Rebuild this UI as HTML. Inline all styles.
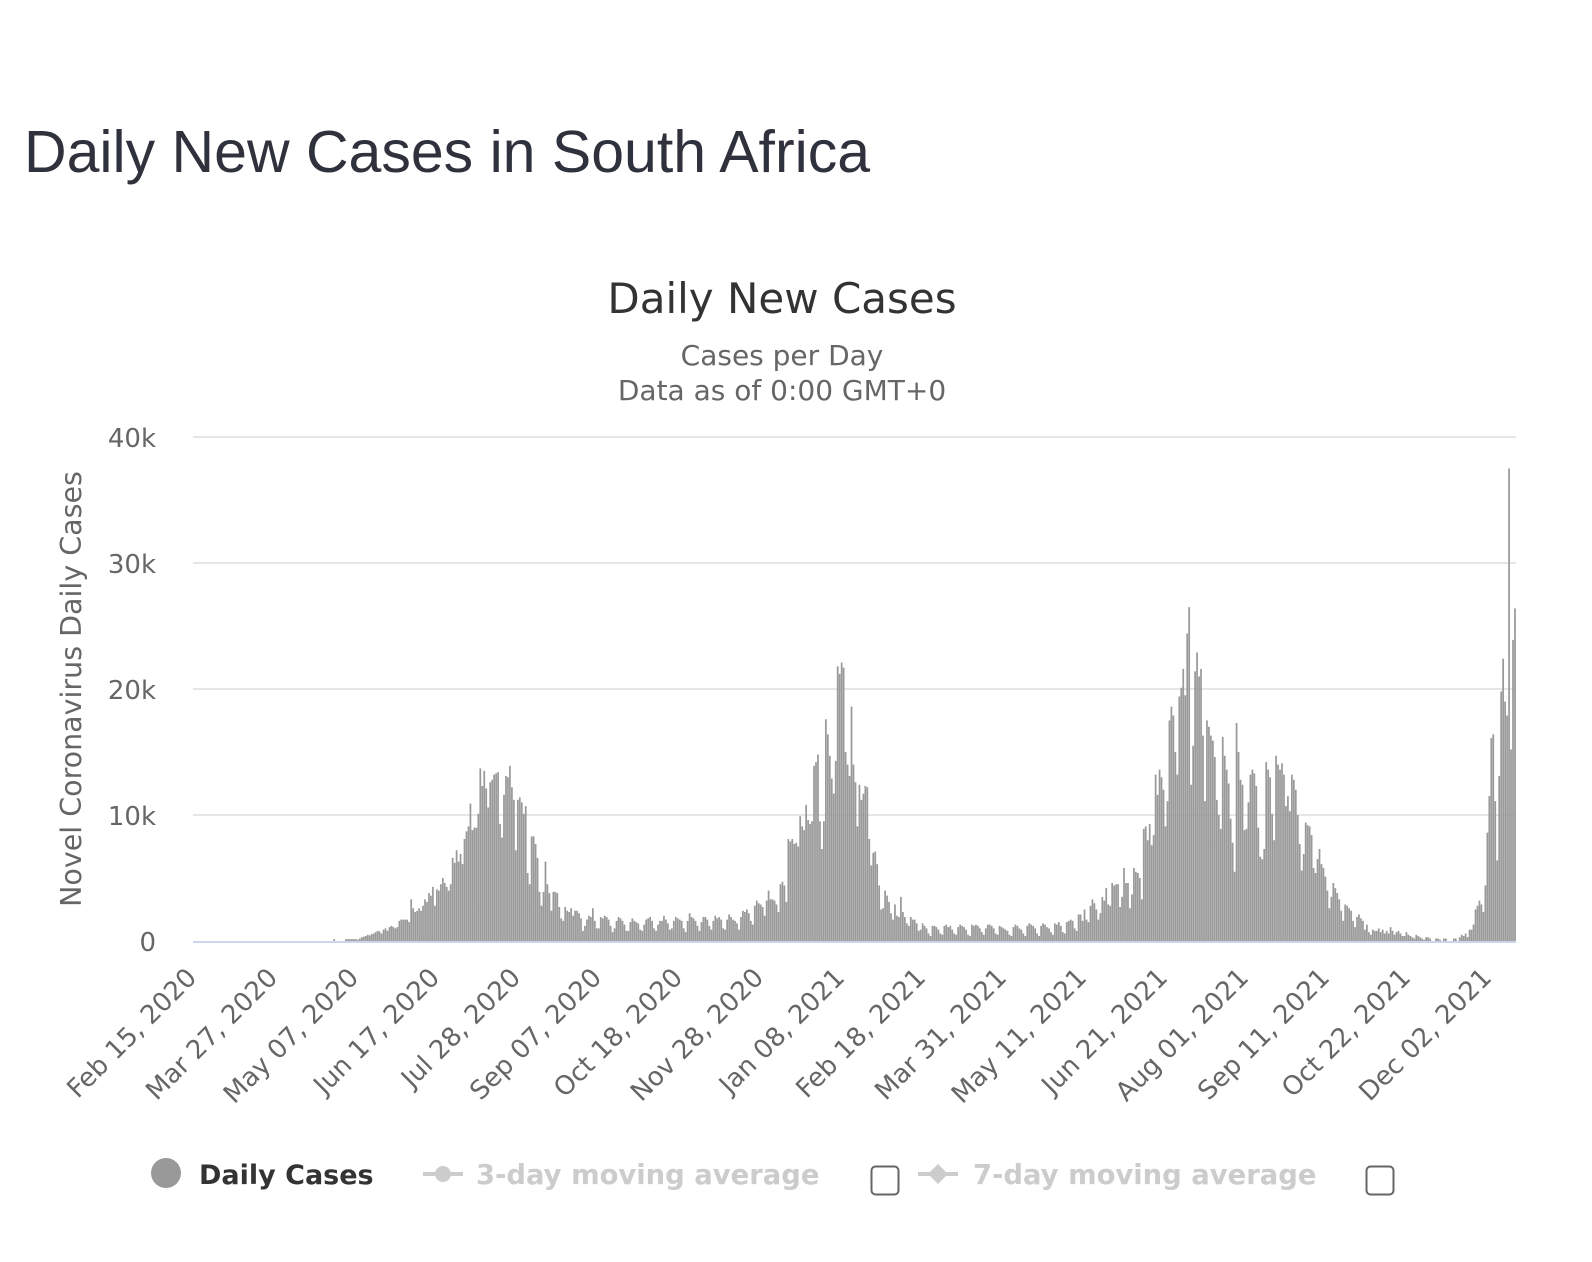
<!DOCTYPE html>
<html><head><meta charset="utf-8"><style>
html,body{margin:0;padding:0;background:#fff;}
svg{display:block;}
</style></head><body>
<svg width="1592" height="1262" viewBox="0 0 1592 1262" xmlns="http://www.w3.org/2000/svg">
<rect width="1592" height="1262" fill="#fff"/>
<text x="24" y="172" font-family="Liberation Sans, Arial, sans-serif" font-size="59" fill="#2f323c">Daily New Cases in South Africa</text>
<text x="782" y="313" text-anchor="middle" font-family="DejaVu Sans, sans-serif" font-size="42" fill="#333">Daily New Cases</text>
<text x="782" y="365" text-anchor="middle" font-family="DejaVu Sans, sans-serif" font-size="28" fill="#666">Cases per Day</text>
<text x="782" y="400" text-anchor="middle" font-family="DejaVu Sans, sans-serif" font-size="28" fill="#666">Data as of 0:00 GMT+0</text>
<g stroke="#e6e6e6" stroke-width="2" fill="none"><path d="M193 437H1516M193 563H1516M193 689H1516M193 815H1516"/></g>
<path transform="translate(193,941) scale(1.9746,-12.6)" fill="none" stroke="#999" stroke-width="0.88" d="M70.5 0
m1 0V.15V0m1 0m5 0V.15V0m1 0V.15V0m1 0V.15V0m1 0V.15V0m1 0V.15V0m1 0V.15V0m1 0V.1V0m1 0V.2V0m1 0V.3V0m1 0
V.35V0m1 0V.4V0m1 0V.5V0m1 0V.45V0m1 0V.55V0m1 0V.6V0m1 0V.7V0m1 0V.8V0m1 0V.75V0m1 0V.6V0m1 0V.9V0m1 0V1V0m1 0V.8V0m1 0V1.1V0m1 0V1.2V0m1 0V1.1V0m1 0V1V0m1 0V1.1V0m1 0V1.6V0m1 0V1.7V0m1 0V1.7V0m1 0
V1.7V0m1 0V1.7V0m1 0V1.5V0m1 0V3.3V0m1 0V2.6V0m1 0V2.3V0m1 0V2.4V0m1 0V2.6V0m1 0V2.4V0m1 0V2.8V0m1 0V3.3V0m1 0V3.1V0m1 0V3.8V0m1 0V3.6V0m1 0V4.3V0m1 0V2.8V0m1 0V4.1V0m1 0V4V0m1 0V4.5V0m1 0V5V0m1 0V4.6V0m1 0V4.3V0m1 0V4V0m1 0V4.5V0m1 0V6.6V0m1 0V6.2V0m1 0V7.2V0m1 0V6.3V0m1 0V6.9V0m1 0V6.1V0m1 0
V8.1V0m1 0V8.7V0m1 0V9.1V0m1 0V10.9V0m1 0V8.8V0m1 0V9V0m1 0V9V0m1 0V10.1V0m1 0V13.7V0m1 0V12.3V0m1 0V13.5V0m1 0V12.1V0m1 0V10.6V0m1 0V12.6V0m1 0V12.8V0m1 0V13.2V0m1 0V13.3V0m1 0V13.4V0m1 0V9.3V0m1 0V8.2V0m1 0V11.6V0m1 0V13.1V0m1 0V13V0m1 0V13.9V0m1 0V12.2V0m1 0V11.2V0m1 0V7.2V0m1 0V11.2V0m1 0V11.4V0m1 0V11V0m1 0V10.1V0m1 0
V10.7V0m1 0V5.4V0m1 0V4.5V0m1 0V8.3V0m1 0V8.3V0m1 0V7.7V0m1 0V6.6V0m1 0V3.9V0m1 0V2.8V0m1 0V3.9V0m1 0V6.3V0m1 0V4.5V0m1 0V3.8V0m1 0V2.4V0m1 0V3.9V0m1 0V3.9V0m1 0V3.8V0m1 0V2.7V0m1 0V1.8V0m1 0V1.6V0m1 0V2.7V0m1 0V2.4V0m1 0V2.3V0m1 0V2.6V0m1 0V2V0m1 0V2.4V0m1 0V2.4V0m1 0V2.2V0m1 0V1.8V0m1 0V.8V0m1 0V1.2V0m1 0
V1.7V0m1 0V2V0m1 0V1.9V0m1 0V2.6V0m1 0V1.6V0m1 0V1V0m1 0V1V0m1 0V1.9V0m1 0V1.8V0m1 0V2V0m1 0V1.9V0m1 0V1.7V0m1 0V1.2V0m1 0V.7V0m1 0V1V0m1 0V1.6V0m1 0V1.9V0m1 0V1.8V0m1 0V1.6V0m1 0V1.3V0m1 0V.8V0m1 0V.8V0m1 0V1.5V0m1 0V1.8V0m1 0V1.6V0m1 0V1.5V0m1 0V1.4V0m1 0V.9V0m1 0V.8V0m1 0V1.3V0m1 0
V1.7V0m1 0V1.8V0m1 0V1.9V0m1 0V1.6V0m1 0V1V0m1 0V.8V0m1 0V1.3V0m1 0V1.6V0m1 0V1.6V0m1 0V2V0m1 0V1.7V0m1 0V1.4V0m1 0V.9V0m1 0V1V0m1 0V1.6V0m1 0V1.9V0m1 0V1.8V0m1 0V1.7V0m1 0V1.6V0m1 0V1V0m1 0V.7V0m1 0V1.6V0m1 0V2.2V0m1 0V1.9V0m1 0V1.8V0m1 0V1.6V0m1 0V1.2V0m1 0V.8V0m1 0V1.5V0m1 0V1.9V0m1 0V1.9V0m1 0
V1.7V0m1 0V1.2V0m1 0V.9V0m1 0V1.6V0m1 0V2V0m1 0V1.8V0m1 0V1.9V0m1 0V1.7V0m1 0V1V0m1 0V.9V0m1 0V1.7V0m1 0V2.1V0m1 0V1.9V0m1 0V1.7V0m1 0V1.6V0m1 0V1.4V0m1 0V.9V0m1 0V1.9V0m1 0V2.4V0m1 0V2.3V0m1 0V2.5V0m1 0V2.2V0m1 0V1.6V0m1 0V1.3V0m1 0V2.8V0m1 0V3.2V0m1 0V3V0m1 0V2.9V0m1 0V2.7V0m1 0V2V0m1 0
V3.2V0m1 0V4V0m1 0V3.3V0m1 0V3.3V0m1 0V3.2V0m1 0V2.9V0m1 0V2.3V0m1 0V4.5V0m1 0V4.7V0m1 0V4.4V0m1 0V3.1V0m1 0
V8.1V0m1 0V7.9V0m1 0V8.1V0m1 0V7.7V0m1 0V7.8V0m1 0V7.5V0m1 0V9.9V0m1 0V9.1V0m1 0V8.8V0m1 0V10.8V0m1 0V9.6V0m1 0V9.3V0m1 0V9.5V0m1 0V13.9V0m1 0V14.2V0m1 0V14.8V0m1 0V9.5V0m1 0V7.3V0m1 0V9.5V0m1 0V17.6V0m1 0V16.4V0m1 0V14.7V0m1 0V12.9V0m1 0V11.7V0m1 0V14.3V0m1 0V21.8V0m1 0V21.2V0m1 0V22.1V0m1 0V21.7V0m1 0V15V0m1 0V14V0m1 0V13.1V0m1 0V18.6V0m1 0V14V0m1 0V12.6V0m1 0V9.1V0m1 0V12.4V0m1 0V11.2V0m1 0V11.7V0m1 0V12.3V0m1 0V12.2V0m1 0V8.1V0m1 0V6V0m1 0V7V0m1 0V7.1V0m1 0V6.1V0m1 0V4.4V0m1 0V2.5V0m1 0V2.6V0m1 0V4V0m1 0V3.6V0m1 0V3.1V0m1 0V2.2V0m1 0V1.7V0m1 0
V2.9V0m1 0V2V0m1 0V1.9V0m1 0V3.5V0m1 0V2.3V0m1 0V1.9V0m1 0V1.4V0m1 0V1.2V0m1 0V1.9V0m1 0V1.7V0m1 0V1.7V0m1 0V1.4V0m1 0V.8V0m1 0V.9V0m1 0V1.4V0m1 0V1.2V0m1 0V1V0m1 0V.6V0m1 0V.4V0m1 0V1.2V0m1 0V1.2V0m1 0V1.1V0m1 0V.9V0m1 0V.6V0m1 0V.5V0m1 0
V1.2V0m1 0V1.3V0m1 0V1.1V0m1 0V1.2V0m1 0V.9V0m1 0V.6V0m1 0V.5V0m1 0V1.1V0m1 0V1.3V0m1 0V1.2V0m1 0V1.1V0m1 0V.9V0m1 0V.5V0m1 0V.4V0m1 0V1.3V0m1 0V1.2V0m1 0V1.3V0m1 0V1.2V0m1 0V1V0m1 0V.7V0m1 0V.5V0m1 0V1V0m1 0V1.3V0m1 0V1.3V0m1 0V1.2V0m1 0V1V0m1 0V.6V0m1 0V.5V0m1 0V1.2V0m1 0V1.1V0m1 0V1V0m1 0
V.9V0m1 0V.8V0m1 0V.5V0m1 0V.4V0m1 0V1.1V0m1 0V1.3V0m1 0V1.2V0m1 0V1V0m1 0V.9V0m1 0V.6V0m1 0V.4V0m1 0V1.2V0m1 0V1.4V0m1 0V1.3V0m1 0V1.2V0m1 0V1V0m1 0V.6V0m1 0V.4V0m1 0V1.2V0m1 0V1.4V0m1 0V1.3V0m1 0V1.1V0m1 0V1V0m1 0V.7V0m1 0V.5V0m1 0V1.4V0m1 0V1.3V0m1 0V1.5V0m1 0V1.2V0m1 0V.7V0m1 0
V.6V0m1 0V1.5V0m1 0V1.6V0m1 0V1.7V0m1 0V1.6V0m1 0V1V0m1 0V.8V0m1 0V2.1V0m1 0V2.1V0m1 0V1.6V0m1 0V2.5V0m1 0V1.7V0m1 0V1.5V0m1 0V2.8V0m1 0V3.3V0m1 0V3V0m1 0V2.5V0m1 0V1.7V0m1 0V2.2V0m1 0V3.5V0m1 0V3.2V0m1 0V4.2V0m1 0V2.9V0m1 0V2.8V0m1 0V4.6V0m1 0V4.4V0m1 0V4.5V0m1 0V4.5V0m1 0V2.7V0m1 0V3.5V0m1 0V5.8V0m1 0
V4.6V0m1 0V4.6V0m1 0V2.6V0m1 0V3.7V0m1 0V5.8V0m1 0V5.5V0m1 0V5.4V0m1 0V5V0m1 0V3.3V0m1 0V8.9V0m1 0V9.1V0m1 0V8V0m1 0V9.3V0m1 0V7.6V0m1 0V8.4V0m1 0V13.2V0m1 0V11.6V0m1 0V13.6V0m1 0V13V0m1 0V12V0m1 0V9.1V0m1 0V11.1V0m1 0V17.5V0m1 0V18.6V0m1 0V17.9V0m1 0V15V0m1 0V13.2V0m1 0V19.4V0m1 0V20.1V0m1 0V21.6V0m1 0V19.5V0m1 0V24.4V0m1 0V26.5V0m1 0
V12.4V0m1 0V15.5V0m1 0V21.4V0m1 0V22.9V0m1 0V21V0m1 0V21.6V0m1 0V16.3V0m1 0V11.1V0m1 0V17.5V0m1 0V17V0m1 0V16.3V0m1 0V15.9V0m1 0V14.6V0m1 0V11.2V0m1 0V10V0m1 0V8.9V0m1 0V16.2V0m1 0V14.7V0m1 0V13.6V0m1 0V12.5V0m1 0V9.7V0m1 0V7.8V0m1 0V5.5V0m1 0V17.3V0m1 0V15V0m1 0
V12.8V0m1 0V12.4V0m1 0V8.8V0m1 0V8.9V0m1 0V11V0m1 0V13.2V0m1 0V13.6V0m1 0V13.3V0m1 0V12.3V0m1 0V9V0m1 0V6.7V0m1 0V6.5V0m1 0V7.3V0m1 0V14.2V0m1 0V13.6V0m1 0V13V0m1 0V10.1V0m1 0V8V0m1 0V14.7V0m1 0V14V0m1 0V13.6V0m1 0V14.1V0m1 0V13.2V0m1 0V10.7V0m1 0V11.5V0m1 0
V10.3V0m1 0V13.2V0m1 0V12.8V0m1 0V12V0m1 0V10V0m1 0V7.7V0m1 0V5.6V0m1 0V6.9V0m1 0V9.4V0m1 0V9.2V0m1 0V9.1V0m1 0V8.4V0m1 0V5.8V0m1 0V5.4V0m1 0V6.5V0m1 0V7.3V0m1 0V6.1V0m1 0V5.8V0m1 0V5.1V0m1 0V4V0m1 0V2.6V0m1 0V3.5V0m1 0V4.6V0m1 0V4.2V0m1 0V3.8V0m1 0
V3.3V0m1 0V2.4V0m1 0V1.6V0m1 0V2.9V0m1 0V2.8V0m1 0V2.6V0m1 0V2.4V0m1 0V1.6V0m1 0V1.1V0m1 0V1.9V0m1 0V2.1V0m1 0V1.8V0m1 0V1.6V0m1 0V.9V0m1 0V1.3V0m1 0V.7V0m1 0V.5V0m1 0V.9V0m1 0V.8V0m1 0V.8V0m1 0V1V0m1 0V.7V0m1 0V.9V0m1 0V.6V0m1 0V.8V0m1 0V.6V0m1 0V1.1V0m1 0V.8V0m1 0V.5V0m1 0V.7V0m1 0
V.8V0m1 0V.6V0m1 0V.4V0m1 0V.4V0m1 0V.7V0m1 0V.5V0m1 0V.4V0m1 0V.3V0m1 0V.2V0m1 0V.5V0m1 0V.4V0m1 0V.3V0m1 0
V.2V0m1 0V.1V0m1 0V.3V0m1 0V.3V0m1 0V.2V0m1 0m1 0m1 0V.2V0m1 0V.2V0m1 0V.1V0m1 0m1 0V.2V0m1 0V.2V0m1 0m1 0m1 0m1 0V.2V0m1 0V.2V0m1 0m1 0V.3V0m1 0V.5V0m1 0V.4V0m1 0V.6V0m1 0V.3V0m1 0V.9V0m1 0V.9V0m1 0
V1.3V0m1 0V2.5V0m1 0V2.8V0m1 0V3.2V0m1 0V2.9V0m1 0V2.3V0m1 0V4.4V0m1 0
V8.6V0m1 0V11.5V0m1 0V16.1V0m1 0V16.4V0m1 0V11.1V0m1 0V6.4V0m1 0V13.1V0m1 0V19.8V0m1 0V22.4V0m1 0V19V0m1 0V17.9V0m1 0V37.5V0m1 0V15.2V0m1 0V23.9V0m1 0V26.4V0m1 0"/>
<path d="M193 942H1516" stroke="#ccd6eb" stroke-width="2" fill="none"/>
<g font-family="DejaVu Sans, sans-serif" font-size="26" fill="#666" text-anchor="end">
<text x="156" y="447">40k</text>
<text x="156" y="573">30k</text>
<text x="156" y="699">20k</text>
<text x="156" y="825">10k</text>
<text x="156" y="951">0</text>
</g>
<text transform="translate(81,689) rotate(-90)" text-anchor="middle" font-family="DejaVu Sans, sans-serif" font-size="28.5" fill="#666">Novel Coronavirus Daily Cases</text>
<g font-family="DejaVu Sans, sans-serif" font-size="26" fill="#666" text-anchor="end">
<text transform="translate(198,979) rotate(-45)">Feb 15, 2020</text>
<text transform="translate(279,979) rotate(-45)">Mar 27, 2020</text>
<text transform="translate(360,979) rotate(-45)">May 07, 2020</text>
<text transform="translate(441,979) rotate(-45)">Jun 17, 2020</text>
<text transform="translate(522,979) rotate(-45)">Jul 28, 2020</text>
<text transform="translate(603,979) rotate(-45)">Sep 07, 2020</text>
<text transform="translate(684,979) rotate(-45)">Oct 18, 2020</text>
<text transform="translate(765,979) rotate(-45)">Nov 28, 2020</text>
<text transform="translate(846,979) rotate(-45)">Jan 08, 2021</text>
<text transform="translate(927,979) rotate(-45)">Feb 18, 2021</text>
<text transform="translate(1008,979) rotate(-45)">Mar 31, 2021</text>
<text transform="translate(1088,979) rotate(-45)">May 11, 2021</text>
<text transform="translate(1169,979) rotate(-45)">Jun 21, 2021</text>
<text transform="translate(1250,979) rotate(-45)">Aug 01, 2021</text>
<text transform="translate(1331,979) rotate(-45)">Sep 11, 2021</text>
<text transform="translate(1412,979) rotate(-45)">Oct 22, 2021</text>
<text transform="translate(1493,979) rotate(-45)">Dec 02, 2021</text>
</g>
<circle cx="166" cy="1173" r="15" fill="#999"/>
<text x="199" y="1184" font-family="DejaVu Sans, sans-serif" font-weight="bold" font-size="27" fill="#333">Daily Cases</text>
<path d="M423 1174H463" stroke="#ccc" stroke-width="4"/>
<circle cx="443" cy="1174" r="8" fill="#ccc"/>
<text x="476" y="1184" font-family="DejaVu Sans, sans-serif" font-weight="bold" font-size="27.4" fill="#ccc">3-day moving average</text>
<rect x="871.5" y="1166.5" width="27" height="28" rx="4" fill="#fff" stroke="#666" stroke-width="2"/>
<path d="M918 1174H958" stroke="#ccc" stroke-width="4"/>
<path d="M938 1164L948 1174L938 1184L928 1174Z" fill="#ccc"/>
<text x="973" y="1184" font-family="DejaVu Sans, sans-serif" font-weight="bold" font-size="27.4" fill="#ccc">7-day moving average</text>
<rect x="1366.5" y="1166.5" width="27" height="28" rx="4" fill="#fff" stroke="#666" stroke-width="2"/>
</svg>
</body></html>
